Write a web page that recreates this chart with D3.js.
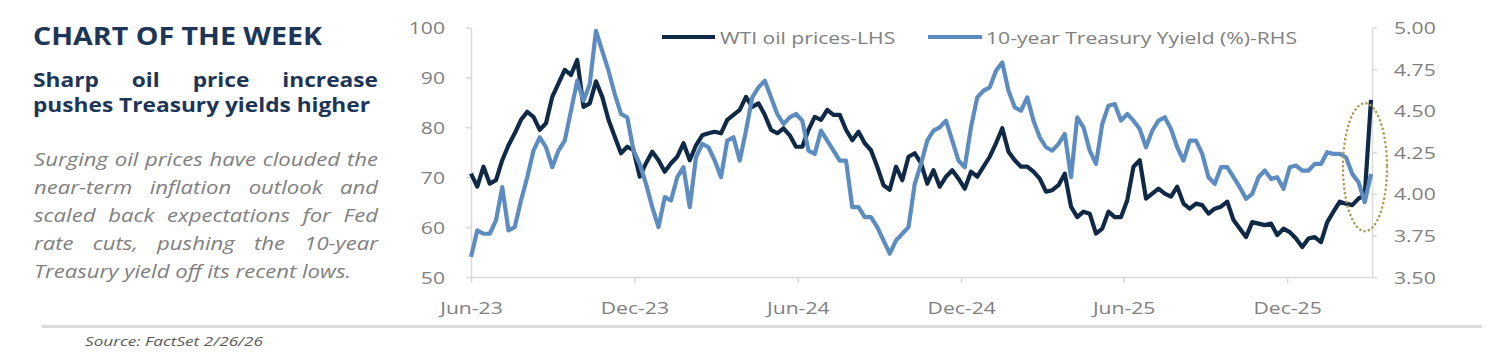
<!DOCTYPE html>
<html><head><meta charset="utf-8">
<script src="https://cdn.jsdelivr.net/npm/d3@7"></script>
<style>
html,body{margin:0;padding:0;background:#fff;}
svg{display:block;}
</style></head>
<body><svg id="chart" width="1510" height="358"></svg>
<script>
// ---------------- DATA ----------------
const startDate = "2023-06-01"; // first weekly observation
const oilPrices = [
70.7,68.1,72.1,68.7,69.4,73.4,76.4,78.8,81.5,83.1,82.1,79.5,80.8,86.1,88.8,91.5,90.5,93.5,84.1,84.8,
89.2,86.1,81.5,78.1,74.8,76.1,75.4,70.1,72.8,75.1,73.4,71.1,72.8,74.1,76.8,73.4,76.4,78.4,78.8,79.1,
78.8,81.5,82.5,83.5,86.1,84.1,84.8,82.5,79.5,78.8,79.8,78.4,76.1,76.1,79.5,82.1,81.5,83.5,82.5,82.5,
79.5,77.4,79.1,76.8,75.4,72.1,68.4,67.5,72.1,69.4,74.1,74.8,72.8,68.7,71.4,68.1,70.1,71.4,69.7,67.7,
71.1,70.1,72.1,74.1,76.8,79.8,75.1,73.4,72.1,72.1,71.1,69.7,67.1,67.4,68.4,70.7,64.1,62.0,63.1,62.7,
58.7,59.7,63.1,62.0,62.0,65.4,72.1,73.4,65.7,66.7,67.7,66.7,66.1,68.1,64.7,63.7,64.7,64.4,62.7,63.7,
64.1,65.1,61.4,59.7,58.0,61.0,60.7,60.4,60.7,58.4,59.7,59.0,57.7,56.0,57.7,58.0,57.0,61.0,63.1,65.1,
64.7,64.4,65.7,66.4,85.5
];
const treasuryYield = [
3.62,3.78,3.76,3.76,3.84,4.04,3.78,3.80,3.96,4.10,4.26,4.34,4.28,4.16,4.26,4.32,4.50,4.68,4.56,4.66,
4.98,4.86,4.74,4.60,4.48,4.46,4.26,4.18,4.06,3.92,3.80,3.98,3.96,4.10,4.16,3.92,4.22,4.30,4.28,4.20,
4.10,4.32,4.34,4.20,4.38,4.58,4.64,4.68,4.58,4.48,4.42,4.46,4.48,4.44,4.26,4.24,4.38,4.32,4.26,4.20,
4.20,3.92,3.92,3.86,3.86,3.80,3.72,3.64,3.72,3.76,3.80,4.06,4.18,4.32,4.38,4.40,4.44,4.32,4.20,4.16,
4.40,4.58,4.62,4.64,4.74,4.79,4.62,4.52,4.50,4.58,4.44,4.34,4.28,4.26,4.30,4.36,4.10,4.46,4.40,4.26,
4.18,4.42,4.53,4.54,4.44,4.48,4.44,4.39,4.28,4.38,4.44,4.46,4.39,4.28,4.20,4.32,4.32,4.24,4.10,4.06,
4.16,4.16,4.10,4.04,3.97,4.00,4.10,4.14,4.09,4.10,4.03,4.16,4.17,4.14,4.14,4.18,4.18,4.25,4.24,4.24,
4.22,4.12,4.07,3.95,4.12
];
const xTickDates  = ["2023-06-01","2023-12-01","2024-06-01","2024-12-01","2025-06-01","2025-12-01"];
const xTickLabels = ["Jun-23","Dec-23","Jun-24","Dec-24","Jun-25","Dec-25"];
const leftTicks  = [50,60,70,80,90,100];
const rightTicks = [3.50,3.75,4.00,4.25,4.50,4.75,5.00];
const seriesNames = ["WTI oil prices-LHS","10-year Treasury Yyield (%)-RHS"];
const titleText = "CHART OF THE WEEK";
const subtitleLines = ["Sharp oil price increase","pushes Treasury yields higher"];
const bodyLines = ["Surging oil prices have clouded the","near-term inflation outlook and",
  "scaled back expectations for Fed","rate cuts, pushing the 10-year","Treasury yield off its recent lows."];
const sourceText = "Source: FactSet 2/26/26";

// ---------------- SETUP ----------------
const parse = d3.timeParse("%Y-%m-%d");
const t0 = parse(startDate);
const weekDates = oilPrices.map((_, i) => d3.timeDay.offset(t0, 7 * i));
const oilData = weekDates.map((d, i) => ({date: d, v: oilPrices[i]}));
const ylData  = weekDates.map((d, i) => ({date: d, v: treasuryYield[i]}));

const svg = d3.select("#chart");
const FONT = "'Open Sans', sans-serif";
const NAVY = "#1d3557";
const DARK = "#0f2947";
const LIGHT = "#5d8cc0";
const GRAY = "#808080";
const AXIS = "#d9d9d9";

const plot = {left: 471, right: 1371, top: 27.5, bottom: 277};
const x  = d3.scaleTime().domain([weekDates[0], weekDates[weekDates.length - 1]]).range([plot.left, plot.right]);
const yL = d3.scaleLinear().domain([50, 100]).range([plot.bottom, plot.top]);
const yR = d3.scaleLinear().domain([3.5, 5]).range([plot.bottom, plot.top]);

function stretch(sel, factor) {
  sel.each(function() {
    const w = this.getComputedTextLength();
    d3.select(this).attr("textLength", w * factor).attr("lengthAdjust", "spacingAndGlyphs");
  });
}
function measure(txt, size, weight, style) {
  const t = svg.append("text").attr("font-family", FONT).attr("font-size", size)
    .attr("font-weight", weight).attr("font-style", style).text(txt);
  const w = t.node().getComputedTextLength();
  t.remove();
  return w;
}

// chart text stretch factor, fitted on the long legend label
const chartSize = 17;
const chartSx = 311 / measure(seriesNames[1], chartSize, "normal", "normal");

// ---------------- AXES ----------------
const gx = svg.append("g").attr("transform", `translate(0,${plot.bottom})`)
  .call(d3.axisBottom(x).tickValues(xTickDates.map(parse)).tickFormat((d, i) => xTickLabels[i])
    .tickSize(6).tickSizeOuter(0));
const gl = svg.append("g").attr("transform", `translate(${plot.left},0)`)
  .call(d3.axisLeft(yL).tickValues(leftTicks).tickSize(5).tickPadding(21).tickSizeOuter(0));
const gr = svg.append("g").attr("transform", `translate(${plot.right + 1},0)`)
  .call(d3.axisRight(yR).tickValues(rightTicks).tickFormat(d3.format(".2f")).tickSize(5).tickPadding(17).tickSizeOuter(0));

[gx, gl, gr].forEach(g => {
  g.select(".domain").attr("stroke", AXIS).attr("stroke-width", 1.5);
  g.selectAll(".tick line").attr("stroke", AXIS).attr("stroke-width", 1.5);
  g.selectAll("text").attr("fill", GRAY).attr("font-family", FONT).attr("font-size", chartSize);
});
gx.selectAll("text").attr("y", 37).attr("dy", 0);
gl.selectAll("text").attr("dy", "0.36em");
gr.selectAll("text").attr("dy", "0.36em");
[gx, gl, gr].forEach(g => stretch(g.selectAll("text"), chartSx));

// ---------------- LINES ----------------
const lineL = d3.line().x(d => x(d.date)).y(d => yL(d.v)).curve(d3.curveLinear);
const lineR = d3.line().x(d => x(d.date)).y(d => yR(d.v)).curve(d3.curveLinear);

svg.append("path").datum(oilData).attr("d", lineL)
  .attr("fill", "none").attr("stroke", DARK).attr("stroke-width", 4.2).attr("stroke-linejoin", "round");
svg.append("path").datum(ylData).attr("d", lineR)
  .attr("fill", "none").attr("stroke", LIGHT).attr("stroke-width", 4.2).attr("stroke-linejoin", "round");

// highlight ellipse around latest move
const last = weekDates[weekDates.length - 1];
svg.append("ellipse")
  .attr("cx", x(last) - 6).attr("cy", yR(4.16)).attr("rx", 22).attr("ry", 64)
  .attr("fill", "none").attr("stroke", "#b19c55").attr("stroke-width", 2.6)
  .attr("stroke-dasharray", "0.1 4.4").attr("stroke-linecap", "round");

// ---------------- LEGEND ----------------
const legendItems = [
  {name: seriesNames[0], color: DARK, x0: 662, x1: 715, tx: 720},
  {name: seriesNames[1], color: LIGHT, x0: 928, x1: 982, tx: 986}
];
legendItems.forEach(it => {
  svg.append("line").attr("x1", it.x0).attr("x2", it.x1).attr("y1", 37).attr("y2", 37)
    .attr("stroke", it.color).attr("stroke-width", 4.2);
  const t = svg.append("text").attr("x", it.tx).attr("y", 43.5)
    .attr("font-family", FONT).attr("font-size", chartSize).attr("fill", GRAY).text(it.name);
  stretch(t, chartSx);
});

// ---------------- LEFT PANEL ----------------
svg.append("text").attr("x", 33).attr("y", 45).attr("font-family", FONT).attr("font-size", 25)
  .attr("font-weight", 700).attr("fill", NAVY).text(titleText)
  .attr("textLength", 289).attr("lengthAdjust", "spacingAndGlyphs");

function paragraph(lines, opts) {
  const {x0, x1, y0, lh, size, weight, style, color, lastWidth} = opts;
  const sx = lastWidth / measure(lines[lines.length - 1], size, weight, style);
  const spaceW = (measure("a a", size, weight, style) - measure("aa", size, weight, style)) * sx;
  lines.forEach((line, li) => {
    const words = line.split(" ");
    const y = y0 + li * lh;
    const widths = words.map(w => measure(w, size, weight, style) * sx);
    const total = d3.sum(widths);
    const justify = li < lines.length - 1;
    const gap = justify ? (x1 - x0 - total) / (words.length - 1) : spaceW;
    let cx = x0;
    words.forEach((w, wi) => {
      svg.append("text").attr("x", cx).attr("y", y).attr("font-family", FONT)
        .attr("font-size", size).attr("font-weight", weight).attr("font-style", style)
        .attr("fill", color).text(w)
        .attr("textLength", widths[wi]).attr("lengthAdjust", "spacingAndGlyphs");
      cx += widths[wi] + gap;
    });
  });
}
paragraph(subtitleLines, {x0: 33, x1: 378, y0: 87, lh: 25, size: 20, weight: 700, style: "normal",
  color: NAVY, lastWidth: 337});
paragraph(bodyLines, {x0: 34, x1: 378, y0: 166, lh: 28, size: 18, weight: 400, style: "italic",
  color: GRAY, lastWidth: 317});

// separator and source
svg.append("line").attr("x1", 42).attr("x2", 1482).attr("y1", 326.5).attr("y2", 326.5)
  .attr("stroke", "#dcdcdc").attr("stroke-width", 3);
svg.append("text").attr("x", 85).attr("y", 346).attr("font-family", FONT).attr("font-size", 13)
  .attr("font-style", "italic").attr("fill", "#595959").text(sourceText)
  .attr("textLength", 178).attr("lengthAdjust", "spacingAndGlyphs");
</script>
</body></html>
